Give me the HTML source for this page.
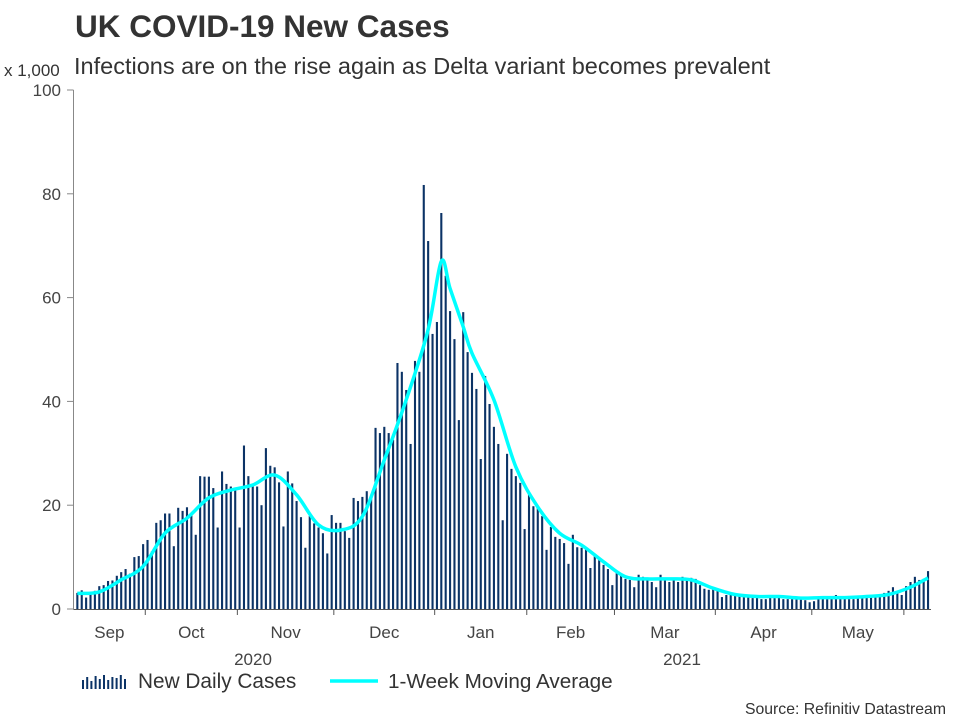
<!DOCTYPE html>
<html><head><meta charset="utf-8"><style>
html,body{margin:0;padding:0;background:#fff;}
body{width:960px;height:720px;overflow:hidden;font-family:"Liberation Sans",Arial,sans-serif;}
svg text{font-family:"Liberation Sans",Arial,sans-serif;}
</style></head><body>
<svg id="chart" width="960" height="720" viewBox="0 0 960 720">
<text x="75" y="37" font-size="31.5" font-weight="bold" fill="#333">UK COVID-19 New Cases</text>
<text x="74" y="74" font-size="23.5" fill="#333">Infections are on the rise again as Delta variant becomes prevalent</text>
<text x="4" y="76" font-size="17" fill="#333">x 1,000</text>
<g id="bars"></g>
<g id="axes"></g>
<path id="ma" fill="none" stroke="#00ffff" stroke-width="3.5" stroke-linejoin="round"></path>
<g>
 <g id="legicon"></g>
 <text x="138" y="688" font-size="20.8" fill="#333">New Daily Cases</text>
 <line x1="330" y1="681" x2="378" y2="681" stroke="#00ffff" stroke-width="3.5"/>
 <text x="388" y="688" font-size="20.7" fill="#333">1-Week Moving Average</text>
</g>
<text x="946" y="714" font-size="15.8" fill="#333" text-anchor="end">Source: Refinitiv Datastream</text>
</svg>
<script>
const dailyCases = [3.1,3.6,2.2,3.0,3.5,4.4,4.6,5.4,5.5,6.4,7.1,7.7,6.8,10.0,10.2,12.5,13.3,11.1,16.6,17.1,18.4,18.4,12.1,19.5,18.9,19.6,18.5,14.3,25.6,25.5,25.5,23.3,
15.7,26.5,24.1,23.6,23.3,15.7,31.5,25.6,23.6,23.6,20.0,31.0,27.6,27.3,24.4,15.9,26.5,24.2,20.8,17.7,11.8,17.9,16.5,15.7,14.6,10.7,
18.1,16.6,16.6,15.0,13.7,21.4,20.8,21.6,22.7,22.0,34.9,33.9,35.1,33.9,32.6,47.4,45.7,42.2,31.8,47.8,45.7,81.7,70.9,53.0,55.3,76.3,64.2,57.4,52.0,36.4,57.2,49.5,45.5,42.4,28.9,44.9,39.5,35.1,31.8,17.1,29.9,27.0,25.6,24.3,15.4,22.4,19.8,19.5,17.9,11.4,
15.8,13.9,13.5,12.7,8.7,14.3,11.9,11.8,11.6,7.9,10.6,9.4,8.5,7.7,4.6,6.9,6.6,5.8,5.6,4.2,6.6,6.2,5.6,5.2,4.2,6.6,5.6,5.2,5.6,5.2,6.2,5.6,6.0,5.8,4.6,3.9,3.7,3.9,3.5,2.3,2.7,2.9,2.7,2.7,2.5,2.5,2.1,2.5,1.9,1.9,2.3,2.1,2.5,1.9,1.9,1.9,2.1,1.9,1.7,1.3,1.5,1.9,2.1,1.9,2.1,2.7,2.1,2.1,1.9,1.9,2.5,2.3,2.7,2.7,2.7,2.7,3.1,3.5,4.2,3.1,2.7,4.4,5.2,6.2,5.6,5.8,7.3];
const maIndex = [0,5,10,15,20,25,30,35,40,45,50,55,60,65,70,75,80,83,85,88,90,95,100,105,110,115,120,125,130,135,140,145,150,155,160,165,170,175,180,185,190,194];
const maValues = [3.0,3.3,5.6,8.2,14.6,17.5,21.4,22.9,23.9,25.8,22.0,16.2,15.2,17.8,28.7,40.3,53.8,67.0,61.8,54.4,49.3,40.3,27.4,19.7,14.6,12.3,9.1,6.2,5.8,5.8,5.6,4.0,2.8,2.4,2.4,2.1,2.2,2.2,2.4,2.8,4.2,6.0];
const monthLabels = ["Sep","Oct","Nov","Dec","Jan","Feb","Mar","Apr","May"];
const monthStartIdx = [16,37,59,82,103,123,146,168,189];
const yTicks = [0,20,40,60,80,100];
const yearLabels = ["2020","2021"];

const NS="http://www.w3.org/2000/svg";
const X0=77.3, STEP=4.385, Y0=609, YTOP=90, YMAX=100;
const xS=i=>X0+STEP*i;
const yS=v=>Y0-(Y0-YTOP)*v/YMAX;
function mk(tag,attrs,parent){const e=document.createElementNS(NS,tag);for(const k in attrs)e.setAttribute(k,attrs[k]);parent.appendChild(e);return e;}
const bars=document.getElementById('bars'), axes=document.getElementById('axes');
dailyCases.forEach((v,i)=>{
 const r=mk('rect',{x:xS(i)-1,y:yS(v),width:2.1,height:Y0-yS(v),fill:'#0b3366'},bars);
 
 
});
// smooth moving average (Catmull-Rom)
const pts=maIndex.map((ix,k)=>[xS(ix),yS(maValues[k])]);
let d='M'+pts[0][0].toFixed(1)+' '+pts[0][1].toFixed(1);
for(let k=0;k<pts.length-1;k++){
 const p0=pts[k-1]||pts[k],p1=pts[k],p2=pts[k+1],p3=pts[k+2]||p2;
 const c1=[p1[0]+(p2[0]-p0[0])/6,p1[1]+(p2[1]-p0[1])/6];
 const c2=[p2[0]-(p3[0]-p1[0])/6,p2[1]-(p3[1]-p1[1])/6];
 d+='C'+c1.map(n=>n.toFixed(1)).join(' ')+' '+c2.map(n=>n.toFixed(1)).join(' ')+' '+p2.map(n=>n.toFixed(1)).join(' ');
}
document.getElementById('ma').setAttribute('d',d);
// axes
const ya=mk('line',{x1:73.5,y1:YTOP,x2:73.5,y2:Y0,stroke:'#888','stroke-width':1},axes);


const xa=mk('line',{x1:73.5,y1:Y0+0.5,x2:931,y2:Y0+0.5,stroke:'#555','stroke-width':1},axes);


yTicks.forEach(t=>{
 const tm=mk('line',{x1:67,y1:yS(t),x2:73.5,y2:yS(t),stroke:'#888'},axes);
 
 
 const tx=mk('text',{x:61,y:yS(t)+6,'font-size':17,fill:'#444','text-anchor':'end'},axes);
 tx.textContent=t;
 
 
});
const tickX=monthStartIdx.map(k=>xS(k)-STEP/2);
tickX.forEach((x,j)=>{
 const tm=mk('line',{x1:x,y1:Y0,x2:x,y2:Y0+6,stroke:'#555'},axes);
 
 
});
monthLabels.forEach((m,j)=>{
 const left=j===0?73.5:tickX[j-1];
 const tx=mk('text',{x:(left+tickX[j])/2,y:638,'font-size':17,fill:'#444','text-anchor':'middle'},axes);
 tx.textContent=m;
 
 
});
const y1=mk('text',{x:253,y:665,'font-size':17,fill:'#444','text-anchor':'middle'},axes);
y1.textContent=yearLabels[0];


const y2=mk('text',{x:682,y:665,'font-size':17,fill:'#444','text-anchor':'middle'},axes);
y2.textContent=yearLabels[1];


// legend icon
const legH=[9,12,8,13,10,14,9,12,11,14,10];
const li=document.getElementById('legicon');
legH.forEach((h,i)=>{
 const r=mk('rect',{x:82+i*4.2,y:689-h,width:2,height:h,fill:'#0b3366'},li);
 
 
});
</script>
</body></html>
